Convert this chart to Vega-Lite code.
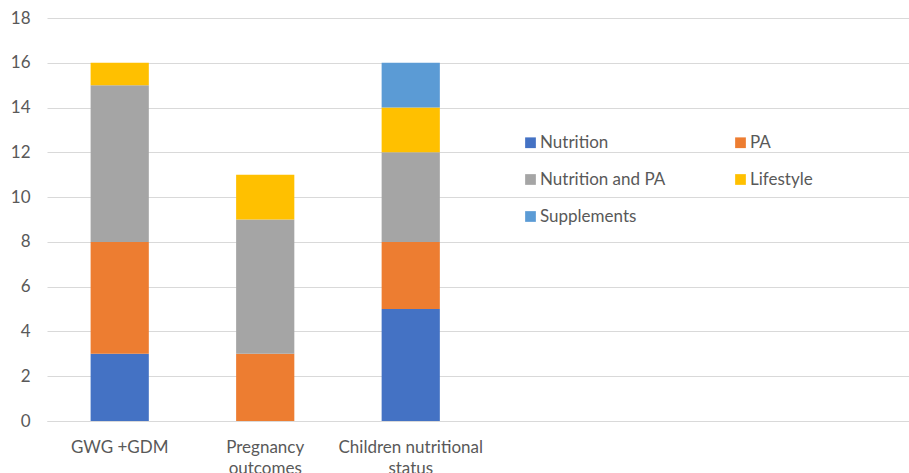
{
  "$schema": "https://vega.github.io/schema/vega-lite/v6.json",
  "width": 862,
  "height": 403,
  "autosize": {"type": "none"},
  "padding": {"left": 47, "top": 18, "right": 0, "bottom": 52},
  "background": "white",
  "config": {
    "view": {"stroke": null},
    "font": "Lato",
    "axis": {"labelFont": "Lato", "labelColor": "#595959", "labelFontSize": 17, "gridColor": "#D9D9D9", "domainColor": "#D9D9D9", "tickSize": 0},
    "legend": {"labelFont": "Lato", "labelColor": "#595959", "labelFontSize": 17}
  },
  "data": {
    "values": [
      {"outcome": "GWG +GDM", "type": "Nutrition", "count": 3},
      {"outcome": "GWG +GDM", "type": "PA", "count": 5},
      {"outcome": "GWG +GDM", "type": "Nutrition and PA", "count": 7},
      {"outcome": "GWG +GDM", "type": "Lifestyle", "count": 1},
      {"outcome": "Pregnancy outcomes", "type": "PA", "count": 3},
      {"outcome": "Pregnancy outcomes", "type": "Nutrition and PA", "count": 6},
      {"outcome": "Pregnancy outcomes", "type": "Lifestyle", "count": 2},
      {"outcome": "Children nutritional status", "type": "Nutrition", "count": 5},
      {"outcome": "Children nutritional status", "type": "PA", "count": 3},
      {"outcome": "Children nutritional status", "type": "Nutrition and PA", "count": 4},
      {"outcome": "Children nutritional status", "type": "Lifestyle", "count": 2},
      {"outcome": "Children nutritional status", "type": "Supplements", "count": 2}
    ]
  },
  "transform": [
    {"calculate": "indexof(['Nutrition', 'PA', 'Nutrition and PA', 'Lifestyle', 'Supplements'], datum.type)", "as": "stackOrder"}
  ],
  "mark": {"type": "bar"},
  "encoding": {
    "x": {
      "field": "outcome",
      "type": "nominal",
      "title": null,
      "scale": {
        "domain": ["GWG +GDM", "Pregnancy outcomes", "Children nutritional status", "e1", "e2", "e3"],
        "paddingInner": 0.6,
        "paddingOuter": 0.262,
        "align": 0.572
      },
      "axis": {
        "labelAngle": 0,
        "labelPadding": 18,
        "labelLineHeight": 21,
        "domain": true,
        "domainWidth": 1,
        "grid": false,
        "labelExpr": "datum.value == 'Pregnancy outcomes' ? ['Pregnancy', 'outcomes'] : datum.value == 'Children nutritional status' ? ['Children nutritional', 'status'] : (indexof(['e1','e2','e3'], datum.value) >= 0 ? '' : datum.value)"
      }
    },
    "y": {
      "field": "count",
      "type": "quantitative",
      "aggregate": "sum",
      "stack": "zero",
      "title": null,
      "scale": {"domain": [0, 18], "nice": false},
      "axis": {"values": [0, 2, 4, 6, 8, 10, 12, 14, 16, 18], "domain": false, "labelPadding": 17, "grid": true}
    },
    "order": {"field": "stackOrder", "type": "quantitative", "sort": "ascending"},
    "color": {
      "field": "type",
      "type": "nominal",
      "scale": {
        "domain": ["Nutrition", "PA", "Nutrition and PA", "Lifestyle", "Supplements"],
        "range": ["#4472C4", "#ED7D31", "#A5A5A5", "#FFC000", "#5B9BD5"]
      },
      "legend": {
        "title": null,
        "orient": "none",
        "direction": "horizontal",
        "legendX": 475,
        "legendY": 116,
        "columns": 2,
        "columnPadding": 66,
        "rowPadding": 19,
        "gridAlign": "all",
        "symbolType": "square",
        "symbolSize": 115,
        "symbolStrokeWidth": 0,
        "labelOffset": 1,
        "padding": 0
      }
    }
  }
}
